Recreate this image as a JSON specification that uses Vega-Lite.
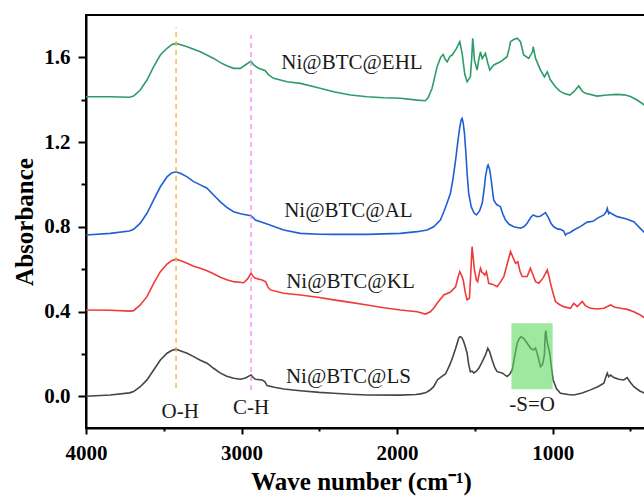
{
  "$schema": "https://vega.github.io/schema/vega-lite/v6.json",
  "width": 560,
  "height": 413,
  "autosize": {"type": "none"},
  "padding": {"left": 86, "top": 15, "right": 0, "bottom": 68},
  "background": "white",
  "config": {
    "view": {"stroke": "black", "strokeWidth": 2},
    "axis": {
      "grid": false,
      "domainColor": "black",
      "domainWidth": 2,
      "tickColor": "black",
      "tickWidth": 2,
      "labelFont": "Liberation Serif",
      "labelFontWeight": "bold",
      "labelFontSize": 21,
      "labelColor": "black",
      "labelFlush": false,
      "titleFont": "Liberation Serif",
      "titleFontWeight": "bold",
      "titleFontSize": 25,
      "titleColor": "black"
    }
  },
  "datasets": {
    "spec": [
      {"s":"LS","w":4000,"a":0.000},{"s":"LS","w":3844,"a":0.006},{"s":"LS","w":3720,"a":0.016},{"s":"LS","w":3694,"a":0.022},{"s":"LS","w":3651,"a":0.045},{"s":"LS","w":3608,"a":0.077},{"s":"LS","w":3565,"a":0.124},{"s":"LS","w":3522,"a":0.171},{"s":"LS","w":3479,"a":0.203},{"s":"LS","w":3450,"a":0.216},{"s":"LS","w":3421,"a":0.222},{"s":"LS","w":3390,"a":0.214},{"s":"LS","w":3350,"a":0.203},{"s":"LS","w":3308,"a":0.187},{"s":"LS","w":3265,"a":0.170},{"s":"LS","w":3222,"a":0.156},{"s":"LS","w":3180,"a":0.132},{"s":"LS","w":3136,"a":0.109},{"s":"LS","w":3095,"a":0.094},{"s":"LS","w":3051,"a":0.085},{"s":"LS","w":3008,"a":0.080},{"s":"LS","w":2975,"a":0.086},{"s":"LS","w":2950,"a":0.096},{"s":"LS","w":2939,"a":0.100},{"s":"LS","w":2925,"a":0.088},{"s":"LS","w":2911,"a":0.080},{"s":"LS","w":2868,"a":0.077},{"s":"LS","w":2850,"a":0.068},{"s":"LS","w":2836,"a":0.050},{"s":"LS","w":2790,"a":0.042},{"s":"LS","w":2729,"a":0.034},{"s":"LS","w":2622,"a":0.026},{"s":"LS","w":2500,"a":0.018},{"s":"LS","w":2408,"a":0.014},{"s":"LS","w":2300,"a":0.009},{"s":"LS","w":2193,"a":0.006},{"s":"LS","w":1979,"a":0.005},{"s":"LS","w":1880,"a":0.008},{"s":"LS","w":1850,"a":0.011},{"s":"LS","w":1818,"a":0.016},{"s":"LS","w":1790,"a":0.028},{"s":"LS","w":1765,"a":0.045},{"s":"LS","w":1740,"a":0.078},{"s":"LS","w":1710,"a":0.095},{"s":"LS","w":1689,"a":0.105},{"s":"LS","w":1660,"a":0.150},{"s":"LS","w":1640,"a":0.190},{"s":"LS","w":1624,"a":0.225},{"s":"LS","w":1605,"a":0.272},{"s":"LS","w":1597,"a":0.281},{"s":"LS","w":1585,"a":0.278},{"s":"LS","w":1574,"a":0.262},{"s":"LS","w":1562,"a":0.235},{"s":"LS","w":1550,"a":0.203},{"s":"LS","w":1540,"a":0.150},{"s":"LS","w":1529,"a":0.116},{"s":"LS","w":1518,"a":0.118},{"s":"LS","w":1507,"a":0.110},{"s":"LS","w":1490,"a":0.118},{"s":"LS","w":1475,"a":0.132},{"s":"LS","w":1455,"a":0.160},{"s":"LS","w":1432,"a":0.195},{"s":"LS","w":1417,"a":0.227},{"s":"LS","w":1405,"a":0.210},{"s":"LS","w":1389,"a":0.171},{"s":"LS","w":1372,"a":0.135},{"s":"LS","w":1357,"a":0.116},{"s":"LS","w":1325,"a":0.110},{"s":"LS","w":1293,"a":0.093},{"s":"LS","w":1275,"a":0.105},{"s":"LS","w":1260,"a":0.124},{"s":"LS","w":1245,"a":0.185},{"s":"LS","w":1228,"a":0.250},{"s":"LS","w":1215,"a":0.272},{"s":"LS","w":1203,"a":0.281},{"s":"LS","w":1185,"a":0.272},{"s":"LS","w":1164,"a":0.250},{"s":"LS","w":1140,"a":0.225},{"s":"LS","w":1125,"a":0.219},{"s":"LS","w":1110,"a":0.227},{"s":"LS","w":1095,"a":0.190},{"s":"LS","w":1078,"a":0.140},{"s":"LS","w":1065,"a":0.150},{"s":"LS","w":1053,"a":0.195},{"s":"LS","w":1048,"a":0.290},{"s":"LS","w":1044,"a":0.310},{"s":"LS","w":1035,"a":0.255},{"s":"LS","w":1019,"a":0.203},{"s":"LS","w":1005,"a":0.120},{"s":"LS","w":997,"a":0.077},{"s":"LS","w":975,"a":0.035},{"s":"LS","w":950,"a":0.014},{"s":"LS","w":900,"a":0.008},{"s":"LS","w":864,"a":0.006},{"s":"LS","w":810,"a":0.015},{"s":"LS","w":757,"a":0.030},{"s":"LS","w":710,"a":0.045},{"s":"LS","w":671,"a":0.061},{"s":"LS","w":655,"a":0.098},{"s":"LS","w":649,"a":0.109},{"s":"LS","w":640,"a":0.092},{"s":"LS","w":628,"a":0.100},{"s":"LS","w":607,"a":0.088},{"s":"LS","w":575,"a":0.080},{"s":"LS","w":543,"a":0.077},{"s":"LS","w":521,"a":0.088},{"s":"LS","w":500,"a":0.065},{"s":"LS","w":478,"a":0.045},{"s":"LS","w":440,"a":0.025},{"s":"LS","w":400,"a":0.012},
      {"s":"KL","w":4000,"a":0.407},{"s":"KL","w":3844,"a":0.406},{"s":"KL","w":3720,"a":0.402},{"s":"KL","w":3694,"a":0.404},{"s":"KL","w":3651,"a":0.431},{"s":"KL","w":3608,"a":0.470},{"s":"KL","w":3565,"a":0.533},{"s":"KL","w":3522,"a":0.588},{"s":"KL","w":3479,"a":0.624},{"s":"KL","w":3450,"a":0.640},{"s":"KL","w":3421,"a":0.647},{"s":"KL","w":3390,"a":0.640},{"s":"KL","w":3350,"a":0.628},{"s":"KL","w":3308,"a":0.614},{"s":"KL","w":3265,"a":0.604},{"s":"KL","w":3222,"a":0.592},{"s":"KL","w":3180,"a":0.578},{"s":"KL","w":3136,"a":0.562},{"s":"KL","w":3095,"a":0.550},{"s":"KL","w":3051,"a":0.541},{"s":"KL","w":2986,"a":0.536},{"s":"KL","w":2960,"a":0.555},{"s":"KL","w":2939,"a":0.581},{"s":"KL","w":2925,"a":0.565},{"s":"KL","w":2911,"a":0.557},{"s":"KL","w":2868,"a":0.549},{"s":"KL","w":2845,"a":0.540},{"s":"KL","w":2830,"a":0.515},{"s":"KL","w":2815,"a":0.502},{"s":"KL","w":2729,"a":0.486},{"s":"KL","w":2622,"a":0.478},{"s":"KL","w":2500,"a":0.466},{"s":"KL","w":2408,"a":0.455},{"s":"KL","w":2300,"a":0.443},{"s":"KL","w":2193,"a":0.431},{"s":"KL","w":2086,"a":0.418},{"s":"KL","w":1979,"a":0.407},{"s":"KL","w":1871,"a":0.399},{"s":"KL","w":1818,"a":0.388},{"s":"KL","w":1786,"a":0.399},{"s":"KL","w":1760,"a":0.420},{"s":"KL","w":1743,"a":0.439},{"s":"KL","w":1700,"a":0.478},{"s":"KL","w":1657,"a":0.492},{"s":"KL","w":1624,"a":0.517},{"s":"KL","w":1605,"a":0.570},{"s":"KL","w":1597,"a":0.588},{"s":"KL","w":1585,"a":0.570},{"s":"KL","w":1575,"a":0.549},{"s":"KL","w":1562,"a":0.490},{"s":"KL","w":1550,"a":0.455},{"s":"KL","w":1535,"a":0.463},{"s":"KL","w":1525,"a":0.600},{"s":"KL","w":1518,"a":0.706},{"s":"KL","w":1510,"a":0.650},{"s":"KL","w":1503,"a":0.596},{"s":"KL","w":1490,"a":0.548},{"s":"KL","w":1482,"a":0.541},{"s":"KL","w":1472,"a":0.580},{"s":"KL","w":1464,"a":0.604},{"s":"KL","w":1455,"a":0.585},{"s":"KL","w":1447,"a":0.581},{"s":"KL","w":1436,"a":0.572},{"s":"KL","w":1426,"a":0.588},{"s":"KL","w":1418,"a":0.560},{"s":"KL","w":1411,"a":0.533},{"s":"KL","w":1385,"a":0.528},{"s":"KL","w":1357,"a":0.517},{"s":"KL","w":1335,"a":0.540},{"s":"KL","w":1314,"a":0.565},{"s":"KL","w":1290,"a":0.630},{"s":"KL","w":1271,"a":0.683},{"s":"KL","w":1255,"a":0.655},{"s":"KL","w":1239,"a":0.628},{"s":"KL","w":1224,"a":0.635},{"s":"KL","w":1210,"a":0.590},{"s":"KL","w":1196,"a":0.565},{"s":"KL","w":1164,"a":0.565},{"s":"KL","w":1143,"a":0.604},{"s":"KL","w":1125,"a":0.570},{"s":"KL","w":1110,"a":0.541},{"s":"KL","w":1089,"a":0.533},{"s":"KL","w":1060,"a":0.560},{"s":"KL","w":1035,"a":0.596},{"s":"KL","w":1025,"a":0.570},{"s":"KL","w":1014,"a":0.533},{"s":"KL","w":995,"a":0.480},{"s":"KL","w":982,"a":0.447},{"s":"KL","w":955,"a":0.432},{"s":"KL","w":929,"a":0.423},{"s":"KL","w":886,"a":0.415},{"s":"KL","w":864,"a":0.439},{"s":"KL","w":842,"a":0.423},{"s":"KL","w":810,"a":0.447},{"s":"KL","w":790,"a":0.428},{"s":"KL","w":757,"a":0.415},{"s":"KL","w":710,"a":0.412},{"s":"KL","w":671,"a":0.415},{"s":"KL","w":628,"a":0.431},{"s":"KL","w":600,"a":0.420},{"s":"KL","w":564,"a":0.415},{"s":"KL","w":520,"a":0.410},{"s":"KL","w":478,"a":0.399},{"s":"KL","w":440,"a":0.385},{"s":"KL","w":400,"a":0.365},
      {"s":"AL","w":4000,"a":0.761},{"s":"AL","w":3844,"a":0.769},{"s":"AL","w":3720,"a":0.780},{"s":"AL","w":3694,"a":0.788},{"s":"AL","w":3651,"a":0.817},{"s":"AL","w":3608,"a":0.864},{"s":"AL","w":3565,"a":0.927},{"s":"AL","w":3522,"a":0.989},{"s":"AL","w":3479,"a":1.036},{"s":"AL","w":3450,"a":1.054},{"s":"AL","w":3421,"a":1.060},{"s":"AL","w":3390,"a":1.052},{"s":"AL","w":3350,"a":1.036},{"s":"AL","w":3308,"a":1.013},{"s":"AL","w":3265,"a":0.998},{"s":"AL","w":3222,"a":0.982},{"s":"AL","w":3180,"a":0.950},{"s":"AL","w":3136,"a":0.918},{"s":"AL","w":3095,"a":0.892},{"s":"AL","w":3051,"a":0.871},{"s":"AL","w":3000,"a":0.860},{"s":"AL","w":2965,"a":0.856},{"s":"AL","w":2939,"a":0.852},{"s":"AL","w":2911,"a":0.832},{"s":"AL","w":2836,"a":0.813},{"s":"AL","w":2729,"a":0.785},{"s":"AL","w":2622,"a":0.769},{"s":"AL","w":2500,"a":0.765},{"s":"AL","w":2408,"a":0.764},{"s":"AL","w":2193,"a":0.764},{"s":"AL","w":1979,"a":0.769},{"s":"AL","w":1871,"a":0.777},{"s":"AL","w":1807,"a":0.785},{"s":"AL","w":1765,"a":0.800},{"s":"AL","w":1722,"a":0.832},{"s":"AL","w":1700,"a":0.870},{"s":"AL","w":1680,"a":0.910},{"s":"AL","w":1657,"a":0.958},{"s":"AL","w":1640,"a":1.030},{"s":"AL","w":1624,"a":1.115},{"s":"AL","w":1610,"a":1.200},{"s":"AL","w":1597,"a":1.272},{"s":"AL","w":1588,"a":1.305},{"s":"AL","w":1582,"a":1.312},{"s":"AL","w":1575,"a":1.290},{"s":"AL","w":1567,"a":1.241},{"s":"AL","w":1558,"a":1.150},{"s":"AL","w":1550,"a":1.052},{"s":"AL","w":1540,"a":0.960},{"s":"AL","w":1524,"a":0.895},{"s":"AL","w":1505,"a":0.865},{"s":"AL","w":1490,"a":0.856},{"s":"AL","w":1470,"a":0.875},{"s":"AL","w":1453,"a":0.911},{"s":"AL","w":1440,"a":0.980},{"s":"AL","w":1432,"a":1.036},{"s":"AL","w":1420,"a":1.085},{"s":"AL","w":1415,"a":1.092},{"s":"AL","w":1405,"a":1.070},{"s":"AL","w":1395,"a":1.021},{"s":"AL","w":1385,"a":0.960},{"s":"AL","w":1379,"a":0.927},{"s":"AL","w":1360,"a":0.905},{"s":"AL","w":1336,"a":0.895},{"s":"AL","w":1320,"a":0.860},{"s":"AL","w":1303,"a":0.832},{"s":"AL","w":1280,"a":0.812},{"s":"AL","w":1250,"a":0.800},{"s":"AL","w":1207,"a":0.793},{"s":"AL","w":1185,"a":0.800},{"s":"AL","w":1164,"a":0.817},{"s":"AL","w":1140,"a":0.845},{"s":"AL","w":1125,"a":0.856},{"s":"AL","w":1100,"a":0.848},{"s":"AL","w":1080,"a":0.850},{"s":"AL","w":1067,"a":0.856},{"s":"AL","w":1046,"a":0.867},{"s":"AL","w":1025,"a":0.840},{"s":"AL","w":1010,"a":0.815},{"s":"AL","w":993,"a":0.800},{"s":"AL","w":970,"a":0.790},{"s":"AL","w":950,"a":0.788},{"s":"AL","w":929,"a":0.780},{"s":"AL","w":918,"a":0.761},{"s":"AL","w":907,"a":0.769},{"s":"AL","w":890,"a":0.772},{"s":"AL","w":864,"a":0.785},{"s":"AL","w":820,"a":0.802},{"s":"AL","w":778,"a":0.822},{"s":"AL","w":740,"a":0.826},{"s":"AL","w":714,"a":0.840},{"s":"AL","w":671,"a":0.856},{"s":"AL","w":655,"a":0.872},{"s":"AL","w":649,"a":0.887},{"s":"AL","w":640,"a":0.862},{"s":"AL","w":633,"a":0.868},{"s":"AL","w":617,"a":0.860},{"s":"AL","w":585,"a":0.848},{"s":"AL","w":530,"a":0.838},{"s":"AL","w":478,"a":0.824},{"s":"AL","w":440,"a":0.795},{"s":"AL","w":400,"a":0.765},
      {"s":"EHL","w":4000,"a":1.414},{"s":"EHL","w":3844,"a":1.414},{"s":"EHL","w":3720,"a":1.412},{"s":"EHL","w":3694,"a":1.417},{"s":"EHL","w":3651,"a":1.446},{"s":"EHL","w":3608,"a":1.493},{"s":"EHL","w":3565,"a":1.556},{"s":"EHL","w":3522,"a":1.611},{"s":"EHL","w":3479,"a":1.643},{"s":"EHL","w":3450,"a":1.660},{"s":"EHL","w":3421,"a":1.666},{"s":"EHL","w":3390,"a":1.660},{"s":"EHL","w":3350,"a":1.650},{"s":"EHL","w":3265,"a":1.626},{"s":"EHL","w":3179,"a":1.595},{"s":"EHL","w":3136,"a":1.575},{"s":"EHL","w":3095,"a":1.560},{"s":"EHL","w":3051,"a":1.548},{"s":"EHL","w":3008,"a":1.548},{"s":"EHL","w":2976,"a":1.564},{"s":"EHL","w":2939,"a":1.582},{"s":"EHL","w":2922,"a":1.564},{"s":"EHL","w":2890,"a":1.548},{"s":"EHL","w":2847,"a":1.537},{"s":"EHL","w":2826,"a":1.517},{"s":"EHL","w":2794,"a":1.501},{"s":"EHL","w":2707,"a":1.485},{"s":"EHL","w":2622,"a":1.477},{"s":"EHL","w":2514,"a":1.458},{"s":"EHL","w":2408,"a":1.438},{"s":"EHL","w":2300,"a":1.422},{"s":"EHL","w":2193,"a":1.414},{"s":"EHL","w":2086,"a":1.409},{"s":"EHL","w":1979,"a":1.407},{"s":"EHL","w":1871,"a":1.398},{"s":"EHL","w":1818,"a":1.395},{"s":"EHL","w":1800,"a":1.410},{"s":"EHL","w":1775,"a":1.454},{"s":"EHL","w":1743,"a":1.556},{"s":"EHL","w":1720,"a":1.600},{"s":"EHL","w":1704,"a":1.614},{"s":"EHL","w":1690,"a":1.590},{"s":"EHL","w":1678,"a":1.579},{"s":"EHL","w":1660,"a":1.605},{"s":"EHL","w":1646,"a":1.611},{"s":"EHL","w":1620,"a":1.640},{"s":"EHL","w":1597,"a":1.674},{"s":"EHL","w":1582,"a":1.619},{"s":"EHL","w":1565,"a":1.520},{"s":"EHL","w":1550,"a":1.485},{"s":"EHL","w":1529,"a":1.508},{"s":"EHL","w":1520,"a":1.600},{"s":"EHL","w":1514,"a":1.690},{"s":"EHL","w":1508,"a":1.640},{"s":"EHL","w":1503,"a":1.587},{"s":"EHL","w":1486,"a":1.540},{"s":"EHL","w":1475,"a":1.590},{"s":"EHL","w":1464,"a":1.626},{"s":"EHL","w":1453,"a":1.595},{"s":"EHL","w":1432,"a":1.619},{"s":"EHL","w":1417,"a":1.572},{"s":"EHL","w":1404,"a":1.540},{"s":"EHL","w":1379,"a":1.564},{"s":"EHL","w":1336,"a":1.579},{"s":"EHL","w":1293,"a":1.603},{"s":"EHL","w":1280,"a":1.640},{"s":"EHL","w":1271,"a":1.674},{"s":"EHL","w":1250,"a":1.684},{"s":"EHL","w":1228,"a":1.690},{"s":"EHL","w":1207,"a":1.674},{"s":"EHL","w":1186,"a":1.611},{"s":"EHL","w":1154,"a":1.595},{"s":"EHL","w":1130,"a":1.625},{"s":"EHL","w":1125,"a":1.650},{"s":"EHL","w":1110,"a":1.595},{"s":"EHL","w":1078,"a":1.540},{"s":"EHL","w":1053,"a":1.508},{"s":"EHL","w":1035,"a":1.532},{"s":"EHL","w":1014,"a":1.493},{"s":"EHL","w":982,"a":1.461},{"s":"EHL","w":955,"a":1.442},{"s":"EHL","w":929,"a":1.430},{"s":"EHL","w":890,"a":1.422},{"s":"EHL","w":864,"a":1.438},{"s":"EHL","w":832,"a":1.465},{"s":"EHL","w":810,"a":1.440},{"s":"EHL","w":789,"a":1.430},{"s":"EHL","w":714,"a":1.417},{"s":"EHL","w":650,"a":1.422},{"s":"EHL","w":585,"a":1.425},{"s":"EHL","w":540,"a":1.423},{"s":"EHL","w":499,"a":1.415},{"s":"EHL","w":450,"a":1.395},{"s":"EHL","w":400,"a":1.370}
    ],
    "rules": [
      {"k":"OH","w":3421,"y1":0.039,"y2":1.743},
      {"k":"CH","w":2939,"y1":0.03,"y2":1.705}
    ],
    "labels": [
      {"t":"Ni@BTC@EHL","w":2290,"a":1.573},
      {"t":"Ni@BTC@AL","w":2313,"a":0.876},
      {"t":"Ni@BTC@KL","w":2300,"a":0.541},
      {"t":"Ni@BTC@LS","w":2313,"a":0.0925},
      {"t":"O-H","w":3394,"a":-0.074},
      {"t":"C-H","w":2939,"a":-0.055},
      {"t":"-S=O","w":1132,"a":-0.041}
    ],
    "box": [
      {"w1":1265,"w2":1000,"a1":0.033,"a2":0.345}
    ]
  },
  "layer": [
    {
      "data": {"name": "spec"},
      "mark": {"type": "line", "strokeWidth": 1.6, "clip": true},
      "encoding": {
        "x": {
          "field": "w", "type": "quantitative",
          "scale": {"domain": [4000, 400], "nice": false, "zero": false},
          "axis": {
            "title": "Wave number (cm⁻¹)",
            "titleX": 275,
            "values": [4000, 3500, 3000, 2500, 2000, 1500, 1000, 500],
            "labelExpr": "datum.value % 1000 == 0 ? format(datum.value, 'd') : ''",
            "tickSize": {"condition": {"test": "datum.value % 1000 == 0", "value": 6}, "value": 3},
            "labelPadding": 8,
            "titlePadding": 6
          }
        },
        "y": {
          "field": "a", "type": "quantitative",
          "scale": {"domain": [-0.15, 1.8], "nice": false, "zero": false},
          "axis": {
            "title": "Absorbance",
            "values": [0, 0.2, 0.4, 0.6, 0.8, 1.0, 1.2, 1.4, 1.6],
            "labelExpr": "abs(datum.value / 0.4 - round(datum.value / 0.4)) < 0.01 ? format(datum.value, '.1f') : ''",
            "tickSize": {"condition": {"test": "abs(datum.value / 0.4 - round(datum.value / 0.4)) < 0.01", "value": 8}, "value": 5},
            "labelPadding": 8,
            "titlePadding": 6
          }
        },
        "color": {
          "field": "s", "type": "nominal", "legend": null,
          "scale": {"domain": ["EHL", "AL", "KL", "LS"], "range": ["#2e9c68", "#1f5fd4", "#f03a3a", "#454545"]}
        },
        "detail": {"field": "s"}
      }
    },
    {
      "data": {"name": "box"},
      "mark": {"type": "rect", "color": "#5fd85f", "opacity": 0.6},
      "encoding": {
        "x": {"field": "w1", "type": "quantitative"},
        "x2": {"field": "w2"},
        "y": {"field": "a1", "type": "quantitative"},
        "y2": {"field": "a2"}
      }
    },
    {
      "data": {"name": "rules"},
      "mark": {"type": "rule", "strokeDash": [5, 4], "strokeWidth": 1.3},
      "encoding": {
        "x": {"field": "w", "type": "quantitative"},
        "y": {"field": "y1", "type": "quantitative"},
        "y2": {"field": "y2"},
        "color": {"field": "k", "type": "nominal", "legend": null, "scale": {"domain": ["OH", "CH"], "range": ["#f2b233", "#ee88ee"]}}
      }
    },
    {
      "data": {"name": "labels"},
      "mark": {"type": "text", "font": "Liberation Serif", "fontSize": 21, "color": "#1a1a1a", "align": "center", "baseline": "middle"},
      "encoding": {
        "x": {"field": "w", "type": "quantitative"},
        "y": {"field": "a", "type": "quantitative"},
        "text": {"field": "t"}
      }
    }
  ],
  "resolve": {"scale": {"color": "independent"}}
}
